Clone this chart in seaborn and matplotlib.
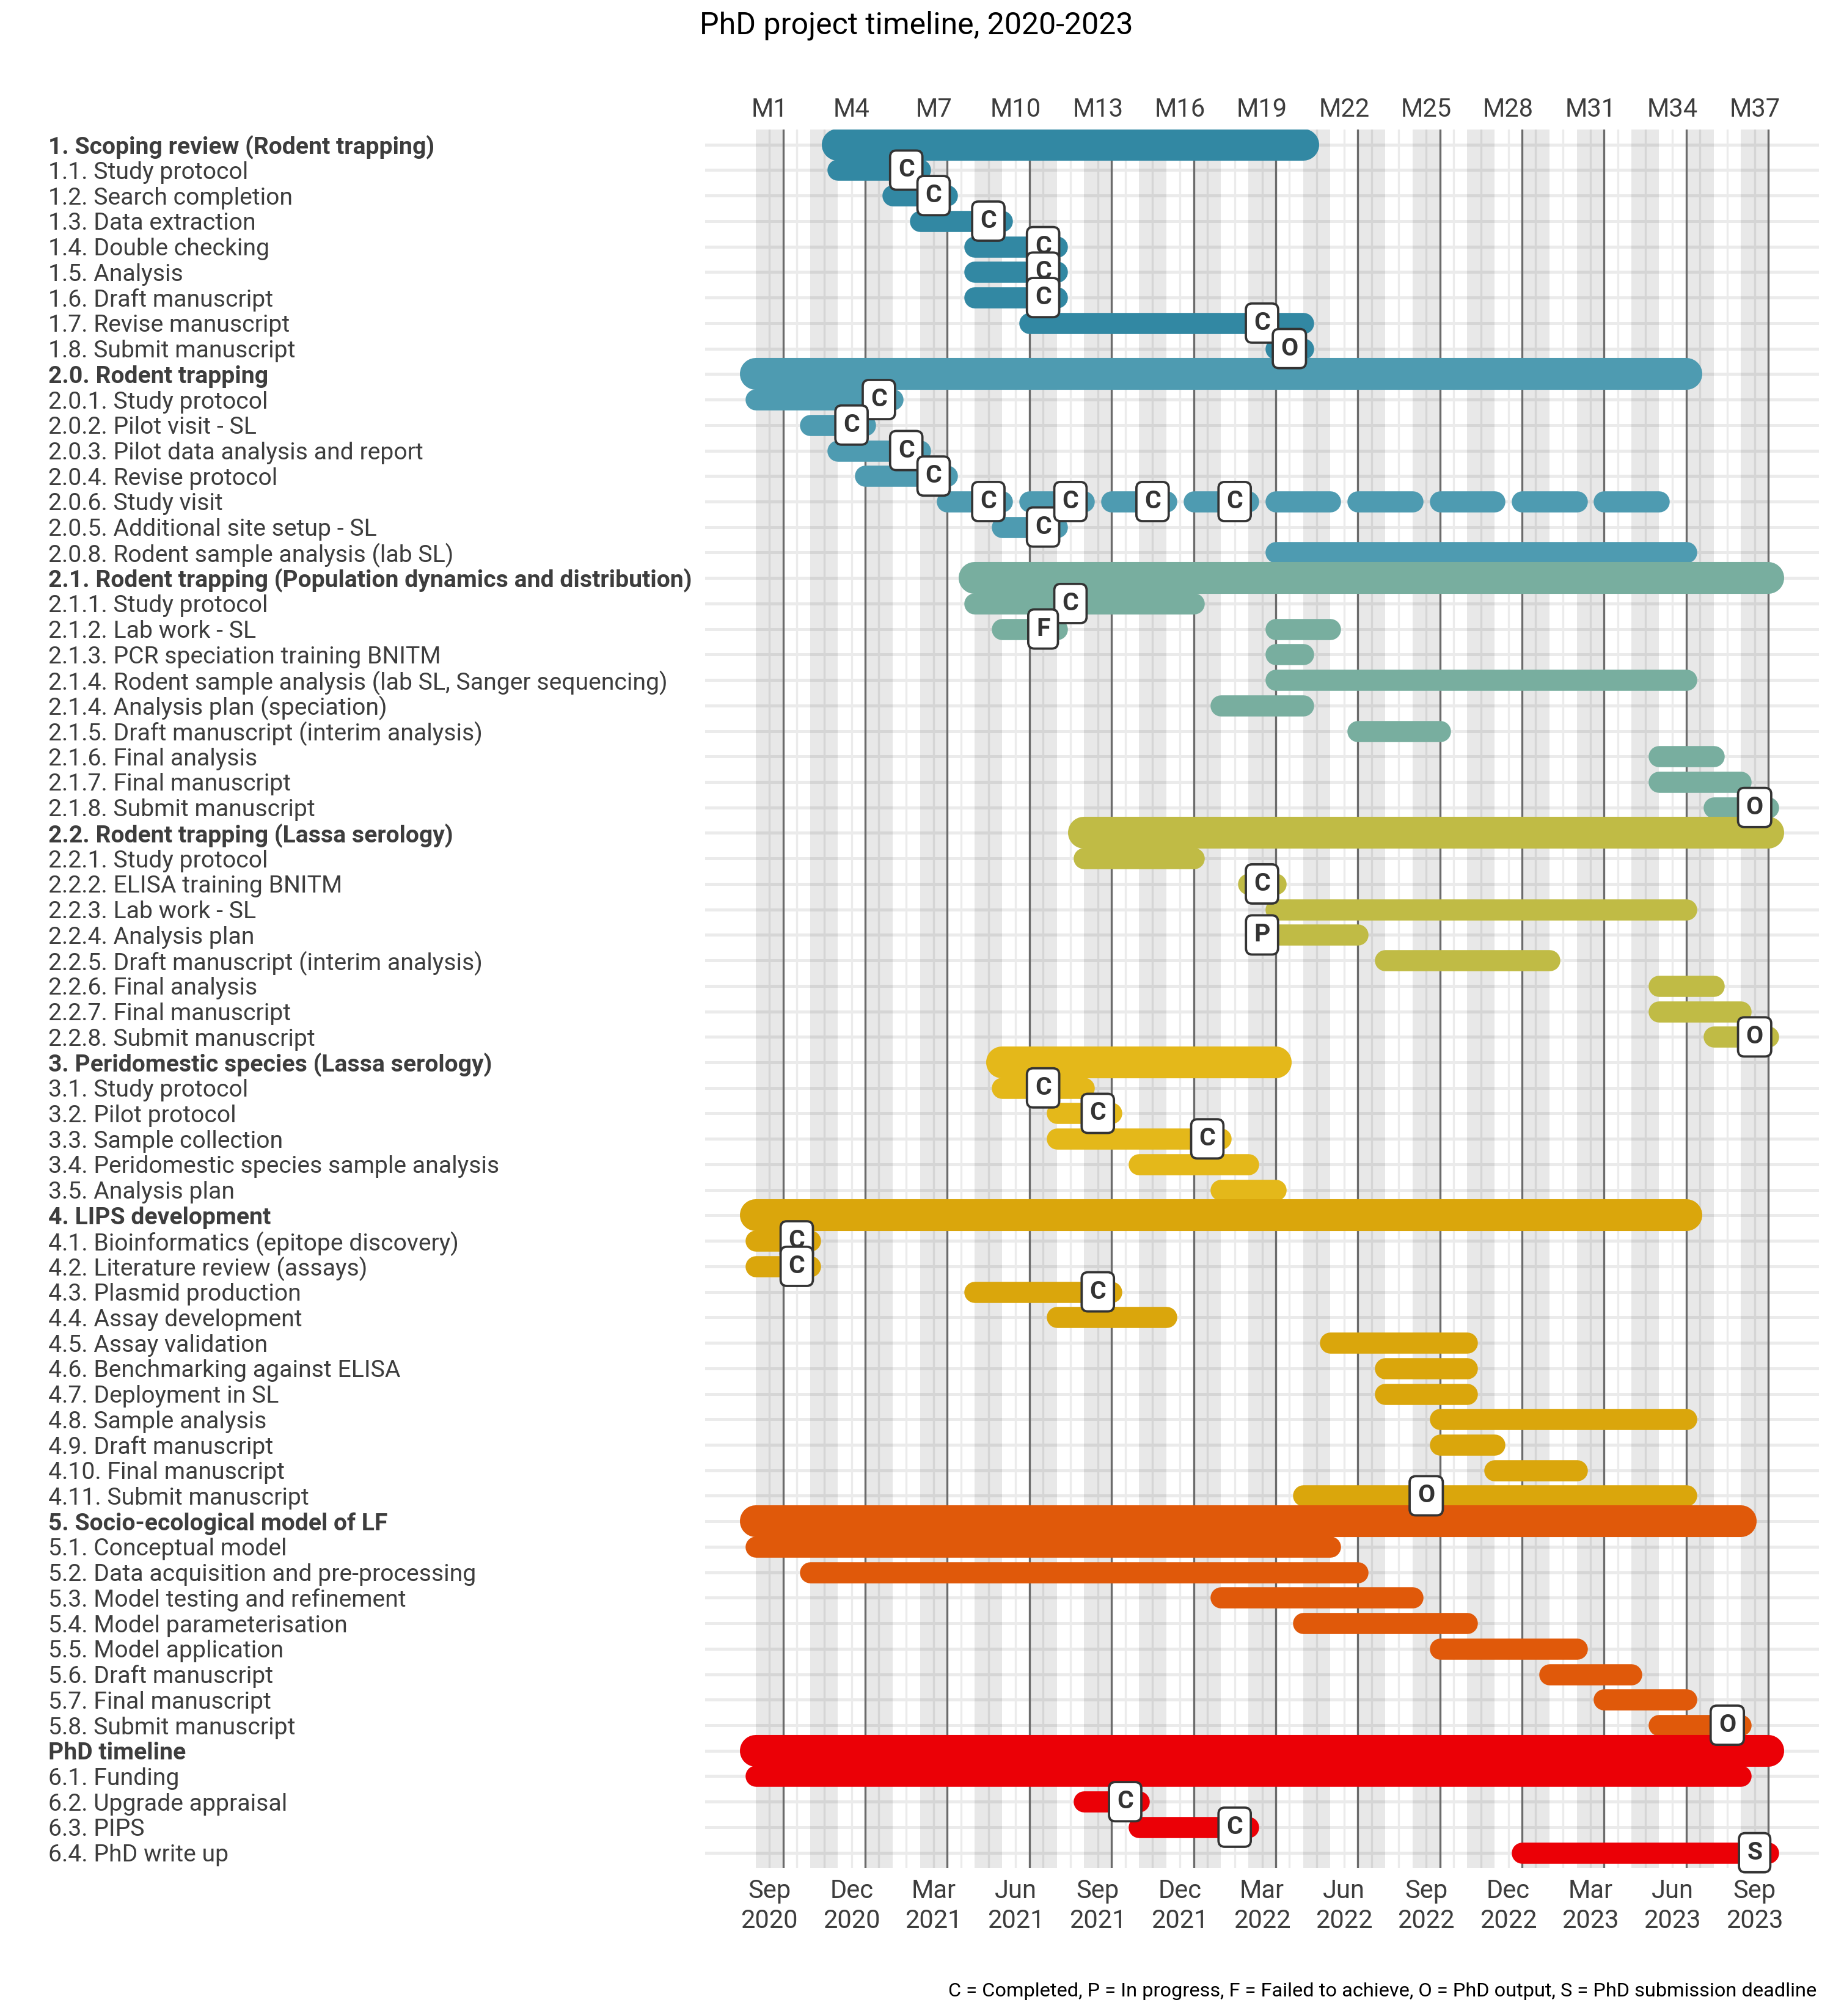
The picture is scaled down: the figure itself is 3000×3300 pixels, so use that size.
import numpy as np
import pandas as pd
import matplotlib
matplotlib.use("Agg")
import matplotlib.pyplot as plt
import seaborn as sns

# Tareas (una fila por tarea, en orden de arriba hacia abajo)
tasks = [
    "1. Scoping review (Rodent trapping)", "1.1. Study protocol", "1.2. Search completion",
    "1.3. Data extraction", "1.4. Double checking", "1.5. Analysis", "1.6. Draft manuscript",
    "1.7. Revise manuscript", "1.8. Submit manuscript",
    "2.0. Rodent trapping", "2.0.1. Study protocol", "2.0.2. Pilot visit - SL",
    "2.0.3. Pilot data analysis and report", "2.0.4. Revise protocol", "2.0.6. Study visit",
    "2.0.5. Additional site setup - SL", "2.0.8. Rodent sample analysis (lab SL)",
    "2.1. Rodent trapping (Population dynamics and distribution)", "2.1.1. Study protocol",
    "2.1.2. Lab work - SL", "2.1.3. PCR speciation training BNITM",
    "2.1.4. Rodent sample analysis (lab SL, Sanger sequencing)", "2.1.4. Analysis plan (speciation)",
    "2.1.5. Draft manuscript (interim analysis)", "2.1.6. Final analysis", "2.1.7. Final manuscript",
    "2.1.8. Submit manuscript",
    "2.2. Rodent trapping (Lassa serology)", "2.2.1. Study protocol", "2.2.2. ELISA training BNITM",
    "2.2.3. Lab work - SL", "2.2.4. Analysis plan", "2.2.5. Draft manuscript (interim analysis)",
    "2.2.6. Final analysis", "2.2.7. Final manuscript", "2.2.8. Submit manuscript",
    "3. Peridomestic species (Lassa serology)", "3.1. Study protocol", "3.2. Pilot protocol",
    "3.3. Sample collection", "3.4. Peridomestic species sample analysis", "3.5. Analysis plan",
    "4. LIPS development", "4.1. Bioinformatics (epitope discovery)", "4.2. Literature review (assays)",
    "4.3. Plasmid production", "4.4. Assay development", "4.5. Assay validation",
    "4.6. Benchmarking against ELISA", "4.7. Deployment in SL", "4.8. Sample analysis",
    "4.9. Draft manuscript", "4.10. Final manuscript", "4.11. Submit manuscript",
    "5. Socio-ecological model of LF", "5.1. Conceptual model", "5.2. Data acquisition and pre-processing",
    "5.3. Model testing and refinement", "5.4. Model parameterisation", "5.5. Model application",
    "5.6. Draft manuscript", "5.7. Final manuscript", "5.8. Submit manuscript",
    "PhD timeline", "6.1. Funding", "6.2. Upgrade appraisal", "6.3. PIPS", "6.4. PhD write up",
]
header_rows = [0, 9, 17, 27, 36, 42, 54, 63]
group_names = ["1", "2.0", "2.1", "2.2", "3", "4", "5", "6"]
group_colors = ["#3288A3", "#4E9BB1", "#78AE9F", "#C0BB45", "#E4B81A", "#DAA60C", "#E0590A", "#EB0006"]

# Segmentos: fila, inicio y fin (en meses del proyecto, M1 = sep 2020)
seg_rows = [0, 1, 2, 3, 4, 5, 6, 7, 8,
            9, 10, 11, 12, 13, 14, 14, 14, 14, 14, 14, 14, 14, 14, 15, 16,
            17, 18, 19, 19, 20, 21, 22, 23, 24, 25, 26,
            27, 28, 29, 30, 31, 32, 33, 34, 35,
            36, 37, 38, 39, 40, 41,
            42, 43, 44, 45, 46, 47, 48, 49, 50, 51, 52, 53,
            54, 55, 56, 57, 58, 59, 60, 61, 62,
            63, 64, 65, 66, 67]
seg_start = [3.5, 3.5, 5.5, 6.5, 8.5, 8.5, 8.5, 10.5, 19.5,
             0.5, 0.5, 2.5, 3.5, 4.5, 7.5, 10.5, 13.5, 16.5, 19.5, 22.5, 25.5, 28.5, 31.5, 9.5, 19.5,
             8.5, 8.5, 9.5, 19.5, 19.5, 19.5, 17.5, 22.5, 33.5, 33.5, 35.5,
             12.5, 12.5, 18.5, 19.5, 19.5, 23.5, 33.5, 33.5, 35.5,
             9.5, 9.5, 11.5, 11.5, 14.5, 17.5,
             0.5, 0.5, 0.5, 8.5, 11.5, 21.5, 23.5, 23.5, 25.5, 25.5, 27.5, 20.5,
             0.5, 0.5, 2.5, 17.5, 20.5, 25.5, 29.5, 31.5, 33.5,
             0.5, 0.5, 12.5, 14.5, 28.5]
seg_end = [20.5, 6.5, 7.5, 9.5, 11.5, 11.5, 11.5, 20.5, 20.5,
           34.5, 5.5, 4.5, 6.5, 7.5, 9.5, 12.5, 15.5, 18.5, 21.5, 24.5, 27.5, 30.5, 33.5, 11.5, 34.5,
           37.5, 16.5, 11.5, 21.5, 20.5, 34.5, 20.5, 25.5, 35.5, 36.5, 37.5,
           37.5, 16.5, 19.5, 34.5, 22.5, 29.5, 35.5, 36.5, 37.5,
           19.5, 12.5, 13.5, 17.5, 18.5, 19.5,
           34.5, 2.5, 2.5, 13.5, 15.5, 26.5, 26.5, 26.5, 34.5, 27.5, 30.5, 34.5,
           36.5, 21.5, 22.5, 24.5, 26.5, 30.5, 32.5, 34.5, 36.5,
           37.5, 36.5, 14.5, 18.5, 37.5]

# Hitos: fila, mes y código
ms_rows = [1, 2, 3, 4, 5, 6, 7, 8, 10, 11, 12, 13, 15, 14, 14, 14, 14,
           18, 19, 26, 29, 31, 35, 37, 38, 39, 43, 44, 45, 53, 62, 65, 66, 67]
ms_month = [6, 7, 9, 11, 11, 11, 19, 20, 5, 4, 6, 7, 11, 9, 12, 15, 18,
            12, 11, 37, 19, 19, 37, 11, 13, 17, 2, 2, 13, 25, 36, 14, 18, 37]
ms_code = ["C", "C", "C", "C", "C", "C", "C", "O", "C", "C", "C", "C", "C", "C", "C", "C", "C",
           "C", "F", "O", "C", "P", "O", "C", "C", "C", "C", "C", "C", "O", "O", "C", "C", "S"]

tick_months = list(range(1, 38, 3))
bottom_labels = ["Sep\n2020", "Dec\n2020", "Mar\n2021", "Jun\n2021", "Sep\n2021", "Dec\n2021",
                 "Mar\n2022", "Jun\n2022", "Sep\n2022", "Dec\n2022", "Mar\n2023", "Jun\n2023", "Sep\n2023"]
top_labels = ["M%d" % m for m in tick_months]

title = "PhD project timeline, 2020-2023"
caption = "C = Completed, P = In progress, F = Failed to achieve, O = PhD output, S = PhD submission deadline"

sns.set_theme(style="white")
plt.rcParams["font.family"] = ["Roboto", "DejaVu Sans"]
txt_col = "#3d3d3d"

# grupo de cada fila según las cabeceras
row_group = np.searchsorted(header_rows, np.arange(len(tasks)), side="right") - 1

# tabla larga para seaborn: dos puntos por segmento
recs = []
for i, (r, s, e) in enumerate(zip(seg_rows, seg_start, seg_end)):
    kind = "head" if r in header_rows else "sub"
    g = group_names[row_group[r]]
    recs.append(dict(seg=i, x=s, y=r, group=g, kind=kind))
    recs.append(dict(seg=i, x=e, y=r, group=g, kind=kind))
df = pd.DataFrame(recs)

fig, ax = plt.subplots(figsize=(10, 11), dpi=300)
fig.subplots_adjust(left=1154 / 3000, right=2977 / 3000, top=1 - 211.7 / 3300, bottom=1 - 3057.7 / 3300)

# fondo: rejilla, bandas mensuales y líneas trimestrales
for r in range(len(tasks)):
    ax.axhline(r, color="#ebebeb", lw=1.2, zorder=0.5)
for m in range(1, 38):
    ax.axvline(m, color="#ebebeb", lw=0.8, zorder=0.5)
for m in range(1, 38, 2):
    ax.axvspan(m - 0.5, m + 0.5, color="black", alpha=0.09, lw=0, zorder=0.8)
for m in np.arange(1.5, 38, 3):
    ax.axvline(m, color="#6b6b6b", lw=0.8, zorder=1)

sns.lineplot(
    data=df, x="x", y="y", units="seg", estimator=None, sort=False,
    hue="group", hue_order=group_names, palette=dict(zip(group_names, group_colors)),
    size="kind", size_order=["head", "sub"], sizes={"head": 12.5, "sub": 8.3},
    solid_capstyle="round", legend=False, ax=ax, zorder=2,
)

for r, m, c in zip(ms_rows, ms_month, ms_code):
    ax.text(m, r, c, ha="center", va="center", fontsize=9.8, fontweight="bold", color="#333333",
            zorder=5, bbox=dict(boxstyle="round,pad=0.32,rounding_size=0.25", fc="white",
                                ec="#333333", lw=0.9))

ax.set_xlim(0.5 - 1.85, 37.5 + 1.85)
ax.set_ylim(len(tasks) - 1 + 0.6, -0.6)
ax.set_xlabel("")
ax.set_ylabel("")
for sp in ax.spines.values():
    sp.set_visible(False)

ax.set_yticks(range(len(tasks)), labels=tasks)
ax.tick_params(axis="y", length=0, pad=258, labelsize=9.4, labelcolor=txt_col)
for i, lab in enumerate(ax.get_yticklabels()):
    lab.set_ha("left")
    if i in header_rows:
        lab.set_fontweight("bold")

ax.set_xticks(tick_months, labels=bottom_labels)
ax.tick_params(axis="x", length=0, pad=4.2, labelsize=10, labelcolor=txt_col)
for lab in ax.get_xticklabels():
    lab.set_linespacing(1.25)

sec = ax.secondary_xaxis("top")
sec.set_xticks(tick_months, labels=top_labels)
sec.tick_params(axis="x", length=0, pad=2.8, labelsize=10, labelcolor=txt_col)
for sp in sec.spines.values():
    sp.set_visible(False)

fig.text(0.5, 1 - 42 / 3300, title, ha="center", va="center", fontsize=12, color="black")
fig.text(2973 / 3000, 1 - 3259 / 3300, caption, ha="right", va="center", fontsize=7.8, color="black")

fig.savefig("out.png", dpi=300)
